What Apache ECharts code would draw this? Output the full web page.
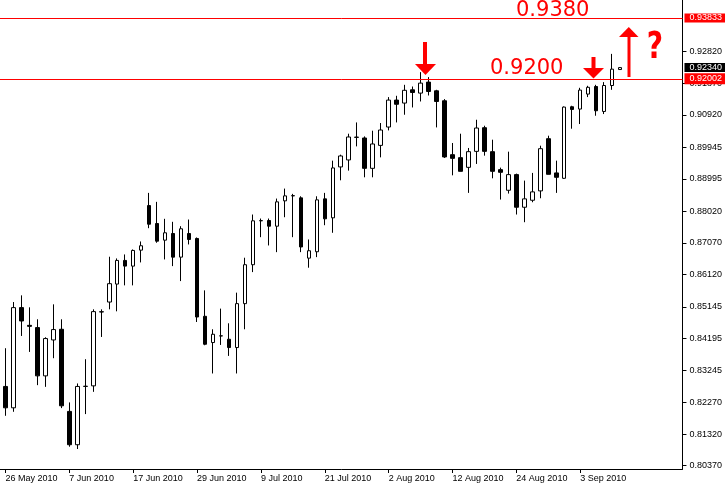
<!DOCTYPE html>
<html><head><meta charset="utf-8">
<script src="https://cdn.jsdelivr.net/npm/echarts@6/dist/echarts.min.js"></script>
<style>html,body{margin:0;padding:0;background:#fff}#c{width:725px;height:483px}</style>
</head><body><div id="c"></div>
<script>
const dates = [
'26 May 2010','27 May 2010','28 May 2010','31 May 2010','1 Jun 2010','2 Jun 2010','3 Jun 2010','4 Jun 2010',
'7 Jun 2010','8 Jun 2010','9 Jun 2010','10 Jun 2010','11 Jun 2010','14 Jun 2010','15 Jun 2010','16 Jun 2010',
'17 Jun 2010','18 Jun 2010','21 Jun 2010','22 Jun 2010','23 Jun 2010','24 Jun 2010','25 Jun 2010','28 Jun 2010',
'29 Jun 2010','30 Jun 2010','1 Jul 2010','2 Jul 2010','5 Jul 2010','6 Jul 2010','7 Jul 2010','8 Jul 2010',
'9 Jul 2010','12 Jul 2010','13 Jul 2010','14 Jul 2010','15 Jul 2010','16 Jul 2010','19 Jul 2010','20 Jul 2010',
'21 Jul 2010','22 Jul 2010','23 Jul 2010','26 Jul 2010','27 Jul 2010','28 Jul 2010','29 Jul 2010','30 Jul 2010',
'2 Aug 2010','3 Aug 2010','4 Aug 2010','5 Aug 2010','6 Aug 2010','9 Aug 2010','10 Aug 2010','11 Aug 2010',
'12 Aug 2010','13 Aug 2010','16 Aug 2010','17 Aug 2010','18 Aug 2010','19 Aug 2010','20 Aug 2010','23 Aug 2010',
'24 Aug 2010','25 Aug 2010','26 Aug 2010','27 Aug 2010','30 Aug 2010','31 Aug 2010','1 Sep 2010','2 Sep 2010',
'3 Sep 2010','6 Sep 2010','7 Sep 2010','8 Sep 2010','9 Sep 2010','10 Sep 2010'
];
const open = [
0.82753,0.82111,0.85123,0.84590,0.84523,0.83071,0.84151,0.84472,0.82003,0.81001,
0.82753,0.82771,0.84991,0.85291,0.85831,0.86542,0.86371,0.86851,0.88192,0.87652,
0.87151,0.87352,0.86641,0.87352,0.87202,0.84862,0.84073,0.84271,0.84172,0.83923,
0.85243,0.86413,0.87733,0.87742,0.87571,0.88333,0.88483,0.88423,0.86611,0.86803,
0.88393,0.87823,0.89353,0.89563,0.90241,0.90223,0.89311,0.90001,0.90553,0.91363,
0.91273,0.91672,0.91573,0.91903,0.91642,0.91342,0.89722,0.89632,0.89341,0.89821,
0.90532,0.89812,0.89272,0.88651,0.89122,0.88141,0.88351,0.88633,0.90202,0.89173,
0.89011,0.91162,0.91093,0.91543,0.91771,0.91021,0.91801,0.92281
];
const close = [
0.82111,0.85123,0.84721,0.84560,0.83071,0.84193,0.84463,0.82171,0.81001,0.82753,
0.82760,0.85003,0.85000,0.85843,0.86542,0.86371,0.86842,0.86983,0.87631,0.87121,
0.87373,0.86641,0.87493,0.87172,0.84841,0.84022,0.84322,0.84275,0.83923,0.85243,
0.86413,0.87733,0.87740,0.87571,0.88303,0.88483,0.88490,0.86947,0.86833,0.88363,
0.87793,0.89323,0.89683,0.90253,0.90250,0.89311,0.90043,0.90463,0.91363,0.91237,
0.91657,0.91591,0.91873,0.91621,0.91321,0.89653,0.89611,0.89221,0.89812,0.90523,
0.89821,0.89221,0.89191,0.89122,0.88141,0.88393,0.88603,0.89902,0.89131,0.89041,
0.91153,0.91081,0.91663,0.91747,0.91042,0.91801,0.92293,0.92340
];
const low = [
0.81871,0.81991,0.84271,0.83791,0.82792,0.82741,0.83602,0.82102,0.80941,0.80872,
0.81922,0.82591,0.84241,0.85072,0.85012,0.85792,0.85792,0.86482,0.87511,0.87073,
0.86572,0.86371,0.85921,0.87022,0.84691,0.83992,0.83143,0.84001,0.83671,0.83143,
0.84472,0.86191,0.87241,0.86992,0.86791,0.87841,0.87241,0.86791,0.86323,0.86641,
0.87601,0.87373,0.88951,0.89242,0.89971,0.89041,0.89041,0.89641,0.90451,0.90691,
0.90922,0.91141,0.91321,0.91501,0.90541,0.89623,0.89101,0.89221,0.88573,0.89443,
0.89692,0.89011,0.88372,0.88552,0.87922,0.87691,0.88291,0.88411,0.89131,0.88573,
0.88993,0.90502,0.90643,0.91453,0.90892,0.90943,0.91672,0.92281
];
const high = [
0.83902,0.85291,0.85492,0.85132,0.84772,0.84232,0.85222,0.84772,0.82273,0.82843,
0.83572,0.85072,0.85072,0.86653,0.86602,0.86722,0.86872,0.87112,0.88573,0.88303,
0.87793,0.87703,0.87571,0.87772,0.87232,0.85642,0.84472,0.85093,0.84652,0.85573,
0.86623,0.87922,0.87802,0.87802,0.88402,0.88702,0.88543,0.88471,0.87172,0.88471,
0.88573,0.89542,0.89722,0.90352,0.90691,0.90271,0.90442,0.90673,0.91453,0.91492,
0.91822,0.91771,0.92203,0.92053,0.91672,0.91393,0.90073,0.90352,0.89923,0.90772,
0.90592,0.90172,0.89332,0.89812,0.89152,0.88942,0.89173,0.89992,0.90292,0.89542,
0.91171,0.91192,0.91732,0.91792,0.91822,0.91903,0.92752,0.92353
];
const priceTicks = [0.80370,0.81320,0.82270,0.83245,0.84195,0.85145,0.86120,0.87070,0.88020,0.88995,0.89945,0.90920,0.91870,0.92820];
const dateTicks = [0,8,16,24,32,40,48,56,64,72];
const levelLines = [0.93833, 0.92002];
const bidPrice = 0.92340;
const levelTexts = ['0.9380', '0.9200'];

const FONT = "'Liberation Sans', Arial, sans-serif";
const candles = dates.map((d, i) => [i, open[i], close[i], low[i], high[i]]);

const boxLabel = (txt, bg, pad) => ({show: true, position: 'end', distance: 2, formatter: txt, color: '#fff',
  backgroundColor: bg, padding: pad, fontSize: 9, lineHeight: 9, fontFamily: FONT});

const chart = echarts.init(document.getElementById('c'), null, {renderer: 'canvas'});
chart.setOption({
  animation: false,
  backgroundColor: '#fff',
  textStyle: {fontFamily: FONT},
  grid: {left: 0, right: 41, top: 0, bottom: 13, containLabel: false},
  xAxis: {
    type: 'value', min: -0.6875, max: 84.8125,
    splitLine: {show: false},
    axisLine: {show: true, onZero: false, lineStyle: {color: '#000', width: 1}},
    axisTick: {show: true, length: 4, customValues: dateTicks, lineStyle: {color: '#000'}},
    axisLabel: {show: true, customValues: dateTicks, align: 'left', margin: 5, color: '#000', fontSize: 9, fontFamily: FONT,
      formatter: v => dates[Math.round(v)] || ''}
  },
  yAxis: {
    type: 'value', position: 'right', min: 0.80271, max: 0.94372, scale: true,
    splitLine: {show: false},
    axisLine: {show: true, onZero: false, lineStyle: {color: '#000', width: 1}},
    axisTick: {show: true, length: 4, customValues: priceTicks, lineStyle: {color: '#000'}},
    axisLabel: {show: true, customValues: priceTicks, margin: 7, color: '#000', fontSize: 9, fontFamily: FONT,
      formatter: v => v.toFixed(5)}
  },
  series: [{
    type: 'candlestick',
    data: candles,
    encode: {x: 0, y: [1, 2, 3, 4]},
    barWidth: 4,
    itemStyle: {color: '#fff', color0: '#000', borderColor: '#000', borderColor0: '#000', borderColorDoji: '#000', borderWidth: 1},
    markLine: {
      symbol: 'none', silent: true, precision: 5,
      data: [
        {yAxis: levelLines[0], lineStyle: {color: '#ff0000', width: 1, type: 'solid'},
          label: boxLabel(levelLines[0].toFixed(5), '#ff0000', [0, 4, 0, 5])},
        {yAxis: levelLines[1], lineStyle: {color: '#ff0000', width: 1, type: 'solid'},
          label: boxLabel(levelLines[1].toFixed(5), '#ff0000', [0, 4, 2, 5])},
        {yAxis: bidPrice, lineStyle: {color: 'rgba(0,0,0,0)', width: 1},
          label: boxLabel(bidPrice.toFixed(5), '#000', [0, 4, 0, 5])}
      ]
    }
  }],
  graphic: [
    {type: 'text', x: 516, y: 11, style: {text: levelTexts[0], fill: '#ff0000', fontSize: 21, fontFamily: "'DejaVu Sans', sans-serif", align: 'left', verticalAlign: 'middle'}},
    {type: 'text', x: 490, y: 69, style: {text: levelTexts[1], fill: '#ff0000', fontSize: 21, fontFamily: "'DejaVu Sans', sans-serif", align: 'left', verticalAlign: 'middle'}},
    {type: 'rect', shape: {x: 423, y: 42, width: 4, height: 23}, style: {fill: '#ff0000'}},
    {type: 'polygon', shape: {points: [[415, 64], [436, 64], [425.5, 75]]}, style: {fill: '#ff0000'}},
    {type: 'rect', shape: {x: 591.5, y: 57, width: 4, height: 12}, style: {fill: '#ff0000'}},
    {type: 'polygon', shape: {points: [[583, 68], [604, 68], [593.5, 78.5]]}, style: {fill: '#ff0000'}},
    {type: 'rect', shape: {x: 627.5, y: 36, width: 3, height: 41}, style: {fill: '#ff0000'}},
    {type: 'polygon', shape: {points: [[619, 37], [638.5, 37], [628.8, 27]]}, style: {fill: '#ff0000'}},
    {type: 'text', x: 655, y: 48, scaleX: 0.74, z: 100, style: {text: '?', fill: '#ff0000', fontSize: 38, fontWeight: 'bold', fontFamily: "'DejaVu Sans', sans-serif", align: 'center', verticalAlign: 'middle'}}
  ]
});
</script></body></html>
